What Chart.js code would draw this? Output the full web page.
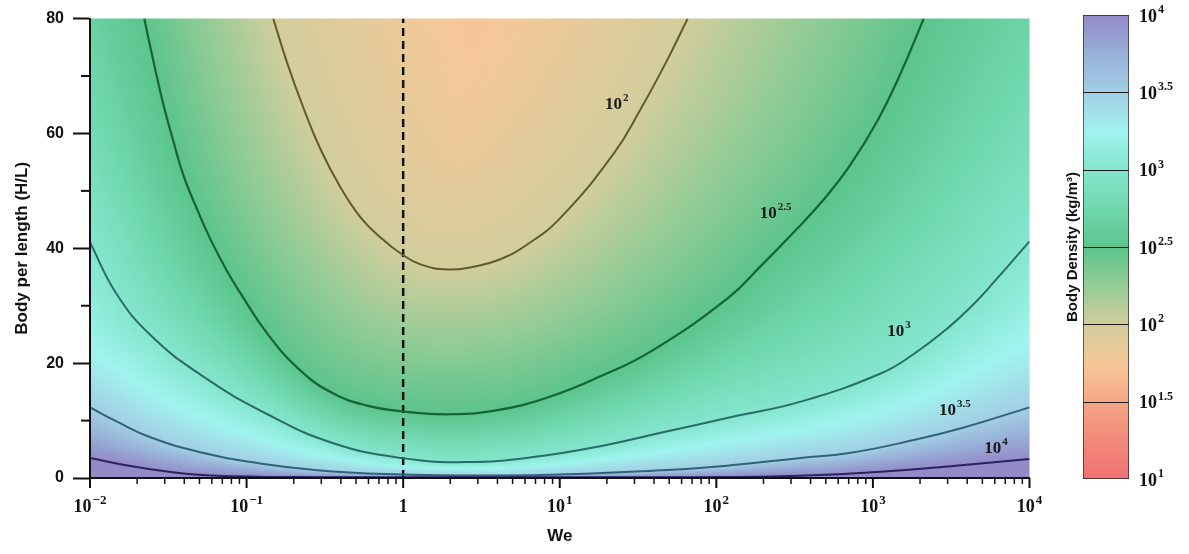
<!DOCTYPE html>
<html>
<head>
<meta charset="utf-8">
<script src="https://cdn.jsdelivr.net/npm/chart.js@4.4.1/dist/chart.umd.min.js"></script>
<style>
  html, body { margin: 0; padding: 0; background: #fff; }
  #wrap { position: relative; width: 1189px; height: 554px; }
  #mainBox { position: absolute; left: 0; top: 0; width: 1080px; height: 554px; }
  #barBox { position: absolute; left: 1040px; top: 0; width: 149px; height: 554px; }
</style>
</head>
<body>
<div id="wrap">
  <div id="mainBox"><canvas id="main"></canvas></div>
  <div id="barBox"><canvas id="bar"></canvas></div>
</div>
<script>
// axis ticks
const xTickValues = [0.01, 0.1, 1, 10, 100, 1000, 10000];
const xTickBase   = ['10', '10', '1', '10', '10', '10', '10'];
const xTickExp    = ['\u22122', '\u22121', '', '1', '2', '3', '4'];
const yMinorTicks = [10, 30, 50, 70];
const barTicks    = [1, 1.5, 2, 2.5, 3, 3.5, 4];

// contour levels, log10 of body density (kg/m3)
const levels    = [4, 3.5, 3, 2.5, 2];
const levelExp  = ['4', '3.5', '3', '2.5', '2'];

// contour lines: [We, H/L]
const rho1e4 = [[0.01, 3.5], [0.0189, 2.0], [0.0394, 0.8], [0.0824, 0.3], [0.3, 0.15], [30, 0.15],
                [258, 0.3], [1122, 1.1], [3006, 2.0], [10000, 3.3]];
const rho1e35 = [[0.01, 12.3], [0.0149, 9.8], [0.0243, 7.1], [0.0507, 4.5], [0.136, 2.34], [0.358, 1.13],
                 [0.99, 0.6], [6.81, 0.5], [48.9, 1.4], [129, 2.25], [346, 3.5], [690, 4.3],
                 [1824, 6.6], [3802, 8.8], [10000, 12.3]];
const rho1e3 = [[0.01, 41.0], [0.0149, 31.9], [0.0243, 24.9], [0.0507, 18.0], [0.136, 11.1], [0.358, 6.06],
                [0.99, 3.46], [2.58, 2.77], [6.80, 3.64], [18.2, 5.54], [48.8, 8.14], [129, 10.7],
                [346, 13.3], [1121, 18.2], [1823, 21.6], [3006, 26.1], [4407, 30.3],
                [5914, 34.1], [10000, 41.2]];
const rho1e25 = [[0.0222, 80], [0.0255, 72.4], [0.0295, 64.9], [0.0342, 58.5], [0.0396, 52.6],
                 [0.0483, 46.8], [0.0587, 41.6], [0.0751, 36.0], [0.0913, 32.2], [0.136, 25.1],
                 [0.221, 18.7], [0.359, 14.7], [0.591, 12.6], [0.99, 11.6], [2.0, 11.1], [4.18, 11.9],
                 [8.73, 14.2], [18.2, 17.7], [38.0, 22.0], [118, 31.3], [192, 36.9],
                 [312, 42.8], [485, 48.5], [721, 54.6], [1073, 62.3], [1505, 70.5], [2111, 80]];
const rho1e2 = [[0.148, 80], [0.182, 72.2], [0.231, 64.4], [0.296, 57.3], [0.398, 50.6], [0.534, 45.4],
                [0.716, 41.9], [0.975, 39.0], [1.29, 37.2], [1.92, 36.3], [2.81, 36.8], [4.18, 38.1],
                [6.23, 40.7], [10.1, 45.3], [22.1, 56.5], [32.8, 64.2], [48.8, 72.9],
                [65.6, 80]];
const contours = [rho1e4, rho1e35, rho1e3, rho1e25, rho1e2];

// where the level labels sit: [We, H/L]
const labelAt = [[6100, 5.2], [3342, 11.8], [1466, 25.5], [239, 46.1], [23.1, 65.1]];

const weRef = 1;   // dashed reference line

// ---------- colours ----------
const cmapStops = [
  [1.0,  [240, 112, 114]],
  [1.25, [242, 138, 122]],
  [1.5,  [244, 166, 134]],
  [1.75, [246, 200, 152]],
  [2.0,  [210, 205, 156]],
  [2.25, [148, 204, 150]],
  [2.5,  [92, 196, 140]],
  [2.75, [112, 216, 174]],
  [3.0,  [132, 230, 206]],
  [3.25, [160, 244, 238]],
  [3.5,  [162, 206, 228]],
  [3.75, [152, 176, 216]],
  [4.0,  [148, 138, 200]]
];
const lineColors = ['#2b2260', '#2f6378', '#2a6c68', '#15633a', '#5f5c2c'];
const innerDrop = 0.27, innerSpread = 180;   // shading inside the lowest level

function cmap(v) {
  const s = cmapStops;
  if (v <= s[0][0]) return s[0][1];
  for (let i = 1; i < s.length; i++) {
    if (v <= s[i][0]) {
      const t = (v - s[i - 1][0]) / (s[i][0] - s[i - 1][0]);
      return s[i - 1][1].map((c, k) => c + (s[i][1][k] - c) * t);
    }
  }
  return s[s.length - 1][1];
}
const rgb = c => `rgb(${Math.round(c[0])},${Math.round(c[1])},${Math.round(c[2])})`;

const SERIF = '"Liberation Serif", "DejaVu Serif", serif';
const SANS = '"Liberation Sans", Arial, sans-serif';

// "10" with a raised exponent, centred on x
function powerLabel(ctx, x, y, base, exp, size, expSize, rise) {
  ctx.font = `bold ${size}px ${SERIF}`;
  const wb = ctx.measureText(base).width;
  ctx.font = `bold ${expSize}px ${SERIF}`;
  const we = exp ? ctx.measureText(exp).width + 1 : 0;
  const x0 = x - (wb + we) / 2;
  ctx.textAlign = 'left';
  ctx.font = `bold ${size}px ${SERIF}`;
  ctx.fillText(base, x0, y);
  if (exp) {
    ctx.font = `bold ${expSize}px ${SERIF}`;
    ctx.fillText(exp, x0 + wb + 1, y - rise);
  }
}
function powerLabelLeft(ctx, x, y, base, exp, size, expSize, rise) {
  ctx.textAlign = 'left';
  ctx.font = `bold ${size}px ${SERIF}`;
  const wb = ctx.measureText(base).width;
  ctx.fillText(base, x, y);
  ctx.font = `bold ${expSize}px ${SERIF}`;
  ctx.fillText(exp, x + wb + 1, y - rise);
}

// ---------- shaded density field behind the contour lines ----------
// pixel polyline of a drawn contour (follows the line element's bezier segments)
function sampleCurve(meta) {
  const p = meta.data, out = [];
  for (let i = 0; i < p.length; i++) {
    const b = p[i];
    if (i === 0) { out.push([b.x, b.y]); continue; }
    const a = p[i - 1];
    const c1x = a.cp2x ?? a.x, c1y = a.cp2y ?? a.y, c2x = b.cp1x ?? b.x, c2y = b.cp1y ?? b.y;
    for (let s = 1; s <= 6; s++) {
      const t = s / 6, u = 1 - t;
      out.push([u * u * u * a.x + 3 * u * u * t * c1x + 3 * u * t * t * c2x + t * t * t * b.x,
                u * u * u * a.y + 3 * u * u * t * c1y + 3 * u * t * t * c2y + t * t * t * b.y]);
    }
  }
  return out;
}
function withExtensions(c, len) {
  const ext = (a, b) => {
    const dx = b[0] - a[0], dy = b[1] - a[1], L = Math.hypot(dx, dy) || 1;
    return [b[0] + dx / L * len, b[1] + dy / L * len];
  };
  return [ext(c[1], c[0])].concat(c, [ext(c[c.length - 2], c[c.length - 1])]);
}
function yAt(c, px) {
  for (let i = 1; i < c.length; i++) {
    const x0 = c[i - 1][0], x1 = c[i][0];
    if ((px >= x0 && px <= x1) || (px >= x1 && px <= x0)) {
      const t = x1 === x0 ? 0 : (px - x0) / (x1 - x0);
      return c[i - 1][1] + (c[i][1] - c[i - 1][1]) * t;
    }
  }
  return null;
}
function distTo(c, px, py) {
  let best = Infinity;
  for (let i = 1; i < c.length; i++) {
    const ax = c[i - 1][0], ay = c[i - 1][1];
    const dx = c[i][0] - ax, dy = c[i][1] - ay;
    const L2 = dx * dx + dy * dy;
    let t = L2 ? ((px - ax) * dx + (py - ay) * dy) / L2 : 0;
    t = t < 0 ? 0 : t > 1 ? 1 : t;
    const ex = ax + t * dx - px, ey = ay + t * dy - py;
    const d = ex * ex + ey * ey;
    if (d < best) best = d;
  }
  return Math.sqrt(best);
}

const fieldPlugin = {
  id: 'field',
  beforeDatasetsDraw(chart) {
    const { ctx, chartArea: a } = chart;
    const curves = levels.map((lv, i) => {
      const meta = chart.getDatasetMeta(i);
      if (meta.dataset && meta.dataset.updateControlPoints) meta.dataset.updateControlPoints(a, 'x');
      return sampleCurve(meta);
    });
    const ext = curves.map(c => withExtensions(c, 400));
    const CELL = 3;
    const W = Math.ceil((a.right - a.left) / CELL) + 1;
    const H = Math.ceil((a.bottom - a.top) / CELL) + 1;
    const colY = curves.map(c => {
      const arr = [];
      for (let i = 0; i < W; i++) arr.push(yAt(c, a.left + i * CELL));
      return arr;
    });
    const small = document.createElement('canvas');
    small.width = W; small.height = H;
    const sctx = small.getContext('2d');
    const img = sctx.createImageData(W, H);
    for (let j = 0; j < H; j++) {
      const py = a.top + j * CELL;
      for (let i = 0; i < W; i++) {
        const px = a.left + i * CELL;
        let k = -1;
        for (let c = 0; c < curves.length; c++) {
          const yc = colY[c][i];
          if (yc !== null && py < yc) k = c; else break;
        }
        let lv;
        if (k < 0) {
          lv = levels[0];
        } else if (k === curves.length - 1) {
          const d = distTo(ext[k], px, py);
          lv = levels[k] - innerDrop * Math.min(1, d / innerSpread);
        } else {
          const d0 = distTo(ext[k], px, py), d1 = distTo(ext[k + 1], px, py);
          lv = levels[k] + (levels[k + 1] - levels[k]) * (d0 / ((d0 + d1) || 1));
        }
        const col = cmap(lv);
        const o = (j * W + i) * 4;
        img.data[o] = col[0];
        img.data[o + 1] = col[1];
        img.data[o + 2] = col[2];
        img.data[o + 3] = 255;
      }
    }
    sctx.putImageData(img, 0, 0);
    ctx.save();
    ctx.beginPath();
    ctx.rect(a.left, a.top, a.right - a.left, a.bottom - a.top);
    ctx.clip();
    ctx.imageSmoothingEnabled = true;
    ctx.imageSmoothingQuality = 'high';
    ctx.drawImage(small, 0, 0, W, H, a.left - CELL / 2, a.top - CELL / 2, W * CELL, H * CELL);
    ctx.restore();
  }
};

// ---------- axis ticks, labels and level labels ----------
const decoPlugin = {
  id: 'deco',
  afterDatasetsDraw(chart) {
    const { ctx, chartArea: a } = chart;
    const xs = chart.scales.x, ys = chart.scales.y;
    ctx.save();
    ctx.fillStyle = '#1a1a1a';
    ctx.textBaseline = 'middle';
    levels.forEach((lv, i) => {
      const [wx, hy] = labelAt[i];
      powerLabel(ctx, xs.getPixelForValue(wx), ys.getPixelForValue(hy), '10', levelExp[i], 17, 11, 6);
    });

    ctx.strokeStyle = '#111';
    // x ticks: majors at decades, minors at 2..9
    for (let e = -2; e <= 4; e++) {
      const px = xs.getPixelForValue(Math.pow(10, e));
      ctx.lineWidth = 2;
      ctx.beginPath(); ctx.moveTo(px, a.bottom); ctx.lineTo(px, a.bottom + 10); ctx.stroke();
      if (e < 4) {
        for (let m = 2; m <= 9; m++) {
          const pm = xs.getPixelForValue(m * Math.pow(10, e));
          ctx.lineWidth = 1.5;
          ctx.beginPath(); ctx.moveTo(pm, a.bottom); ctx.lineTo(pm, a.bottom + 6); ctx.stroke();
        }
      }
    }
    // y minor ticks
    yMinorTicks.forEach(v => {
      const py = ys.getPixelForValue(v);
      ctx.lineWidth = 2;
      ctx.beginPath(); ctx.moveTo(a.left, py); ctx.lineTo(a.left - 9, py); ctx.stroke();
    });
    // x tick labels
    ctx.textBaseline = 'alphabetic';
    ctx.fillStyle = '#111';
    xTickValues.forEach((v, i) => {
      powerLabel(ctx, xs.getPixelForValue(v), a.bottom + 34, xTickBase[i], xTickExp[i], 18, 13, 8);
    });
    ctx.restore();
  }
};

const datasets = contours.map((pts, i) => ({
  label: '10^' + levelExp[i],
  data: pts.map(([x, y]) => ({ x, y })),
  borderColor: lineColors[i],
  borderWidth: i === 3 ? 2.2 : 2,
  pointRadius: 0,
  fill: false,
  tension: 0.45
}));
datasets.push({
  label: 'We = 1',
  data: [{ x: weRef, y: 0 }, { x: weRef, y: 80 }],
  borderColor: '#111',
  borderWidth: 2.5,
  borderDash: [8, 5],
  pointRadius: 0,
  fill: false
});

new Chart(document.getElementById('main'), {
  type: 'line',
  data: { datasets },
  options: {
    responsive: true,
    maintainAspectRatio: false,
    animation: false,
    events: [],
    layout: { padding: { top: 16, right: 50.5, left: 0, bottom: 0 } },
    plugins: { legend: { display: false }, tooltip: { enabled: false } },
    scales: {
      x: {
        type: 'logarithmic', min: 0.01, max: 10000, position: 'bottom',
        ticks: { display: false },
        grid: { display: false, drawTicks: false },
        border: { display: true, color: '#111', width: 2, z: 1 },
        title: { display: true, text: 'We', color: '#111',
                 font: { family: SANS, weight: 'bold', size: 17 }, padding: { top: 0, bottom: 7 } },
        afterFit: s => { s.height = 76; }
      },
      y: {
        type: 'linear', min: 0, max: 80, position: 'left',
        ticks: { stepSize: 20, color: '#111', padding: 9, font: { family: SANS, weight: 'bold', size: 16 } },
        grid: { display: true, drawOnChartArea: false, drawTicks: true, tickLength: 17,
                tickColor: '#111', tickWidth: 2, z: 1 },
        border: { display: true, color: '#111', width: 2, z: 1 },
        title: { display: true, text: 'Body per length (H/L)', color: '#111',
                 font: { family: SANS, weight: 'bold', size: 17 }, padding: { top: 12, bottom: 0 } },
        afterFit: s => { s.width = 90; }
      }
    }
  },
  plugins: [fieldPlugin, decoPlugin]
});

// ---------- colour bar ----------
const barDeco = {
  id: 'barDeco',
  afterDatasetsDraw(chart) {
    const { ctx, chartArea: a } = chart;
    const ys = chart.scales.y;
    ctx.save();
    ctx.strokeStyle = '#1a1a1a';
    ctx.lineWidth = 1;
    barTicks.slice(1, -1).forEach(v => {
      const py = Math.round(ys.getPixelForValue(v)) + 0.5;
      ctx.beginPath(); ctx.moveTo(a.left, py); ctx.lineTo(a.right, py); ctx.stroke();
    });
    ctx.fillStyle = '#111';
    ctx.textBaseline = 'middle';
    barTicks.forEach(v => {
      powerLabelLeft(ctx, a.right + 10, ys.getPixelForValue(v) + 2, '10', String(v), 18, 12, 7);
    });
    ctx.restore();
  }
};

new Chart(document.getElementById('bar'), {
  type: 'bar',
  data: {
    labels: ['rho'],
    datasets: [{
      data: [[barTicks[0], barTicks[barTicks.length - 1]]],
      backgroundColor(c) {
        const chart = c.chart, a = chart.chartArea;
        if (!a) return null;
        const g = chart.ctx.createLinearGradient(0, a.bottom, 0, a.top);
        cmapStops.forEach(([lv, col]) => g.addColorStop((lv - 1) / 3, rgb(col)));
        return g;
      },
      borderColor: '#222',
      borderWidth: 1,
      borderSkipped: false,
      barPercentage: 1,
      categoryPercentage: 1
    }]
  },
  options: {
    responsive: true,
    maintainAspectRatio: false,
    animation: false,
    events: [],
    layout: { padding: { top: 15, bottom: 75, left: 0, right: 0 } },
    plugins: { legend: { display: false }, tooltip: { enabled: false } },
    scales: {
      x: { display: false },
      y: {
        position: 'left', min: 1, max: 4,
        ticks: { display: false }, grid: { display: false }, border: { display: false },
        title: { display: true, text: 'Body Density (kg/m\u00b3)', color: '#111',
                 font: { family: SANS, weight: 'bold', size: 15 }, padding: { top: 24, bottom: 0 } },
        afterFit: s => { s.width = 43; }
      },
      y2: {
        position: 'right', min: 1, max: 4,
        ticks: { display: false }, grid: { display: false }, border: { display: false },
        afterFit: s => { s.width = 60; }
      }
    }
  },
  plugins: [barDeco]
});
</script>
</body>
</html>
